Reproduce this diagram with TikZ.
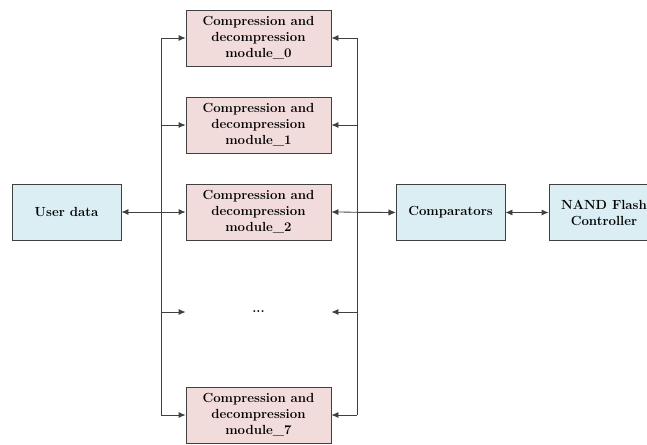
\documentclass[tikz,border=0pt]{standalone}
\usetikzlibrary{arrows.meta}
\definecolor{boxblue}{HTML}{DAEEF3}
\definecolor{boxpink}{HTML}{F2DCDB}
\definecolor{edgegray}{HTML}{404040}
\tikzset{
  blk/.style={draw=edgegray, line width=0.8pt, align=center, inner sep=1pt,
    font=\fontsize{13.2}{16}\selectfont\bfseries},
  userblk/.style={blk, fill=boxblue, minimum width=109pt, minimum height=56pt},
  modblk/.style={blk, fill=boxpink, minimum width=145pt, minimum height=56pt},
  wire/.style={draw=edgegray, line width=0.8pt},
  biarrow/.style={wire, {Latex[length=7pt,width=6pt]}-{Latex[length=7pt,width=6pt]}},
  toarrow/.style={wire, -{Latex[length=7pt,width=6pt]}},
}
\begin{document}
\begin{tikzpicture}[x=1pt,y=-1pt]
\useasboundingbox (0,0) rectangle (647,444);
% Blocks
\node[userblk] (user) at (66.5,212) {User data};
\node[modblk] (m0) at (258.5,38) {Compression and\\decompression\\module\_0};
\node[modblk] (m1) at (258.5,125) {Compression and\\decompression\\module\_1};
\node[modblk] (m2) at (258.5,212) {Compression and\\decompression\\module\_2};
\node[blk, draw=none, minimum width=145pt] (dots) at (258.5,312) {...};
\node[modblk] (m7) at (258.5,415) {Compression and\\decompression\\module\_7};
\node[userblk] (comp) at (450.5,212.5) {Comparators};
\node[userblk, minimum width=110pt] (nand) at (604,212.5) {NAND Flash\\Controller};
% Buses
\coordinate (lbus) at (161,0);
\coordinate (rbus) at (357,0);
\draw[wire] (lbus |- m0.west) -- (lbus |- m7.west);
\draw[wire] (rbus |- m0.east) -- (rbus |- m7.east);
% Left bus to modules
\foreach \m in {m0,m1,dots,m7}
  \draw[toarrow] (lbus |- \m.west) -- (\m.west);
% Right bus to modules
\foreach \m in {m0,m1,dots,m7}
  \draw[toarrow] (rbus |- \m.east) -- (\m.east);
% Main data path
\draw[biarrow] (user.east) -- (m2.west);
\draw[biarrow] (m2.east) -- (comp.west);
\draw[toarrow, line width=1.4pt] (rbus |- comp.west) -- (comp.west);
\draw[biarrow] (comp.east) -- (nand.west);
\end{tikzpicture}
\end{document}
